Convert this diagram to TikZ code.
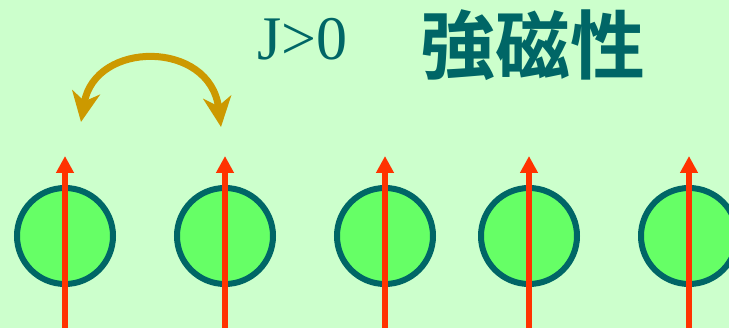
\documentclass[tikz,border=0pt]{standalone}
\usepackage{fontspec}
\setmainfont{Liberation Serif}
\newfontfamily\cjk{Noto Sans CJK JP}[BoldFont={Noto Sans CJK JP Bold}]
\usetikzlibrary{arrows.meta}
\definecolor{bg}{HTML}{CCFFCC}
\definecolor{ballfill}{HTML}{66FF66}
\definecolor{teal2}{HTML}{006666}
\definecolor{spinred}{HTML}{FF3300}
\definecolor{gold2}{HTML}{CC9900}
\tikzset{
  ball/.style={circle, draw=teal2, fill=ballfill, line width=6pt, minimum size=96pt, inner sep=0pt},
  spin/.style={draw=spinred, line width=6pt, -{Triangle[length=17pt,width=17pt]}},
  exch/.style={draw=gold2, line width=7pt, {Stealth[length=30pt,width=28pt,inset=9pt]}-{Stealth[length=30pt,width=28pt,inset=9pt]}},
}
\begin{document}
\begin{tikzpicture}[x=1pt,y=-1pt]
\fill[bg] (0,0) rectangle (729,328);
\useasboundingbox (0,0) rectangle (729,328);
\foreach \i/\x in {1/65,2/225,3/385,4/529,5/689}{
  \node[ball] (c\i) at (\x,236) {};
  \coordinate (b\i) at (\x,332);
  \coordinate (t\i) at (\x,156);
  \draw[spin] (b\i) -- (t\i);
}
\coordinate (ga) at (81,122);
\coordinate (gb) at (221,127);
\draw[exch] (ga) .. controls (95,40) and (210,40) .. (gb);
\node[anchor=base west, inner sep=0pt, text=teal2, font=\fontsize{62}{62}\selectfont] (j) at (257,60) {J>0};
\node[inner sep=0pt, text=teal2, font=\cjk\bfseries\fontsize{75}{75}\selectfont] (title) at (533,45) {強磁性};
\end{tikzpicture}
\end{document}
